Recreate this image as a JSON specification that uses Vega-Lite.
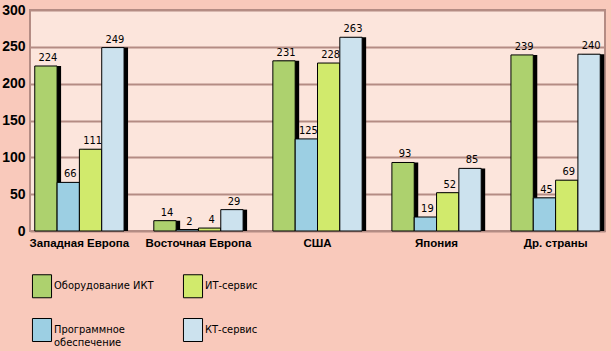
{
  "$schema": "https://vega.github.io/schema/vega-lite/v6.json",
  "width": 575,
  "height": 221,
  "autosize": {"type": "none"},
  "padding": {"left": 30, "top": 10, "right": 6, "bottom": 120},
  "background": "#F9C9BB",
  "config": {
    "view": {"fill": "#FCE5DC", "stroke": "#B48C84", "strokeWidth": 2},
    "font": "'DejaVu Sans Condensed', 'Liberation Sans', sans-serif"
  },
  "data": {
    "values": [
      {"region": "Западная Европа", "series": "Оборудование ИКТ", "value": 224},
      {"region": "Западная Европа", "series": "Программное обеспечение", "value": 66},
      {"region": "Западная Европа", "series": "ИТ-сервис", "value": 111},
      {"region": "Западная Европа", "series": "КТ-сервис", "value": 249},
      {"region": "Восточная Европа", "series": "Оборудование ИКТ", "value": 14},
      {"region": "Восточная Европа", "series": "Программное обеспечение", "value": 2},
      {"region": "Восточная Европа", "series": "ИТ-сервис", "value": 4},
      {"region": "Восточная Европа", "series": "КТ-сервис", "value": 29},
      {"region": "США", "series": "Оборудование ИКТ", "value": 231},
      {"region": "США", "series": "Программное обеспечение", "value": 125},
      {"region": "США", "series": "ИТ-сервис", "value": 228},
      {"region": "США", "series": "КТ-сервис", "value": 263},
      {"region": "Япония", "series": "Оборудование ИКТ", "value": 93},
      {"region": "Япония", "series": "Программное обеспечение", "value": 19},
      {"region": "Япония", "series": "ИТ-сервис", "value": 52},
      {"region": "Япония", "series": "КТ-сервис", "value": 85},
      {"region": "Др. страны", "series": "Оборудование ИКТ", "value": 239},
      {"region": "Др. страны", "series": "Программное обеспечение", "value": 45},
      {"region": "Др. страны", "series": "ИТ-сервис", "value": 69},
      {"region": "Др. страны", "series": "КТ-сервис", "value": 240}
    ]
  },
  "encoding": {
    "x": {
      "field": "region",
      "type": "nominal",
      "sort": null,
      "scale": {"paddingInner": 0.25, "paddingOuter": 0.04},
      "axis": {
        "title": null,
        "domain": false,
        "ticks": false,
        "labelAngle": 0,
        "labelFont": "Liberation Sans",
        "labelFontWeight": "bold",
        "labelFontSize": 11.5,
        "labelColor": "black",
        "labelPadding": 6
      }
    },
    "y": {
      "field": "value",
      "type": "quantitative",
      "scale": {"domain": [0, 300]},
      "axis": {
        "title": null,
        "values": [0, 50, 100, 150, 200, 250, 300],
        "domain": false,
        "ticks": false,
        "gridColor": "#B48C84",
        "gridWidth": 2,
        "gridOpacity": 1,
        "labelFont": "Liberation Sans",
        "labelFontWeight": "bold",
        "labelFontSize": 14,
        "labelColor": "black",
        "labelPadding": 5
      }
    }
  },
  "resolve": {"scale": {"xOffset": "independent"}},
  "layer": [
    {
      "mark": {"type": "bar", "color": "black"},
      "encoding": {
        "xOffset": {
          "field": "series",
          "type": "nominal",
          "scale": {
            "domain": ["Оборудование ИКТ", "Программное обеспечение", "ИТ-сервис", "КТ-сервис"],
            "paddingInner": 0,
            "paddingOuter": 0,
            "range": [4, {"expr": "bandwidth('x') + 4"}]
          }
        }
      }
    },
    {
      "mark": {"type": "bar", "stroke": "black", "strokeWidth": 1},
      "encoding": {
        "xOffset": {
          "field": "series",
          "type": "nominal",
          "scale": {
            "domain": ["Оборудование ИКТ", "Программное обеспечение", "ИТ-сервис", "КТ-сервис"],
            "paddingInner": 0,
            "paddingOuter": 0
          }
        },
        "color": {
          "field": "series",
          "type": "nominal",
          "scale": {
            "domain": ["Оборудование ИКТ", "Программное обеспечение", "ИТ-сервис", "КТ-сервис"],
            "range": ["#ADD16E", "#9CCFE3", "#D1EA6C", "#CCE2EE"]
          },
          "legend": {
            "title": null,
            "orient": "none",
            "legendX": 0,
            "legendY": 264,
            "columns": 2,
            "columnPadding": 27,
            "rowPadding": 16,
            "padding": 0,
            "symbolType": "M-0.83,-1H0.83V1H-0.83Z",
            "symbolSize": 529,
            "symbolStrokeColor": "black",
            "symbolStrokeWidth": 1,
            "symbolOpacity": 1,
            "labelFontSize": 11,
            "labelColor": "black",
            "labelOffset": 0,
            "labelExpr": "datum.label == 'Программное обеспечение' ? ['Программное', 'обеспечение'] : datum.label"
          }
        }
      }
    },
    {
      "mark": {"type": "text", "baseline": "bottom", "dy": -3, "fontSize": 11, "color": "black"},
      "encoding": {
        "xOffset": {
          "field": "series",
          "type": "nominal",
          "scale": {
            "domain": ["Оборудование ИКТ", "Программное обеспечение", "ИТ-сервис", "КТ-сервис"],
            "padding": 0,
            "range": [{"expr": "bandwidth('x') / 8 + 2"}, {"expr": "bandwidth('x') * 7 / 8 + 2"}]
          }
        },
        "text": {"field": "value", "type": "quantitative"}
      }
    }
  ]
}
